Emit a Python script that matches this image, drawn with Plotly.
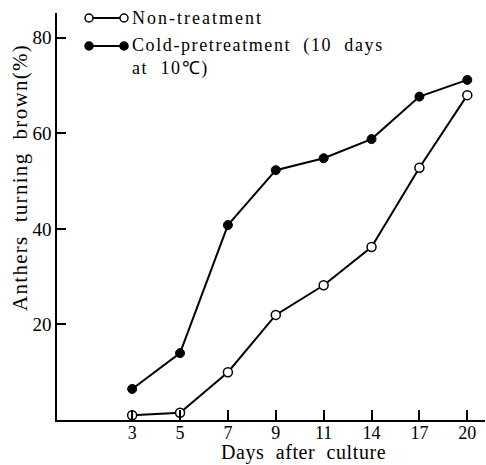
import plotly.graph_objects as go

days = ["3", "5", "7", "9", "11", "14", "17", "20"]
non_treatment = [1, 1.5, 10, 22, 28.2, 36.2, 52.8, 68]
cold_pretreatment = [6.5, 14, 40.8, 52.3, 54.8, 58.8, 67.7, 71.2]
y_ticks = [20, 40, 60, 80]
x_title = "Days\u00a0 after\u00a0 culture"
y_title = "Anthers\u00a0 turning\u00a0 brown(%)"
legend_names = ["Non-treatment", "Cold-pretreatment\u00a0 (10\u00a0 days<br>at\u00a0 10℃)"]

x_idx = list(range(len(days)))
FONT = "Liberation Serif"

fig = go.Figure()
fig.add_trace(go.Scatter(
    x=x_idx, y=non_treatment, mode="lines+markers", name="Non-treatment",
    line=dict(color="black", width=2),
    marker=dict(symbol="circle", size=9, color="white", line=dict(color="black", width=1.5)),
    showlegend=False, cliponaxis=False))
fig.add_trace(go.Scatter(
    x=x_idx, y=cold_pretreatment, mode="lines+markers", name="Cold-pretreatment",
    line=dict(color="black", width=2),
    marker=dict(symbol="circle", size=9, color="black", line=dict(color="black", width=1)),
    showlegend=False, cliponaxis=False))

W, H = 486, 465
L, R, T, B = 57, 1, 13, 45
pw, ph = W - L - R, H - T - B

def px_x(p):
    return (p - L) / pw

def px_y(p):
    return 1 - (p - T) / ph

def spaced(s, ls):
    return "<br>".join(f'<span style="letter-spacing:{ls}px">{part}</span>' for part in s.split("<br>"))

shapes = []
annotations = []
legend_rows = [(18, False, legend_names[0], 2), (46, True, legend_names[1], 1.6)]
for ypix, filled, name, ls in legend_rows:
    yy = px_y(ypix)
    shapes.append(dict(type="line", xref="paper", yref="paper", x0=px_x(89), x1=px_x(124),
                       y0=yy, y1=yy, line=dict(color="black", width=2)))
    for xp in (89, 124):
        shapes.append(dict(type="circle", xref="paper", yref="paper", xsizemode="pixel",
                           ysizemode="pixel", xanchor=px_x(xp), yanchor=yy,
                           x0=-4, x1=4, y0=-4, y1=4,
                           fillcolor="black" if filled else "white",
                           line=dict(color="black", width=1.5)))
    annotations.append(dict(text=spaced(name, ls), xref="paper", yref="paper", x=px_x(130), y=yy,
                            xanchor="left", yanchor="top" if filled else "middle",
                            yshift=13 if filled else 0,
                            showarrow=False, align="left",
                            font=dict(family=FONT, size=18, color="black")))

annotations.append(dict(text=spaced(x_title, 0.6), xref="paper", yref="paper", x=px_x(303), y=px_y(452),
                        xanchor="center", yanchor="middle", showarrow=False,
                        font=dict(family=FONT, size=20, color="black")))
annotations.append(dict(text=spaced(y_title, 1.3), xref="paper", yref="paper", x=px_x(20), y=px_y(178),
                        xanchor="center", yanchor="middle", showarrow=False, textangle=-90,
                        font=dict(family=FONT, size=21, color="black")))

fig.update_layout(
    width=W, height=H,
    margin=dict(l=L, r=R, t=T, b=B),
    paper_bgcolor="white", plot_bgcolor="white",
    font=dict(family=FONT, size=18, color="black"),
    shapes=shapes, annotations=annotations,
    xaxis=dict(range=[-1.57, 7.37], tickvals=x_idx, ticktext=days,
               showline=True, linecolor="black", linewidth=2,
               ticks="inside", ticklen=10, tickwidth=1.5, tickcolor="black",
               showgrid=False, zeroline=False, ticklabelstandoff=-5,
               tickfont=dict(family=FONT, size=18, color="black")),
    yaxis=dict(range=[0, 85.2], tickvals=y_ticks,
               showline=True, linecolor="black", linewidth=1.5,
               ticks="inside", ticklen=9, tickwidth=1.5, tickcolor="black",
               showgrid=False, zeroline=False,
               tickfont=dict(family=FONT, size=19, color="black")),
)

fig.write_html("out.html")
